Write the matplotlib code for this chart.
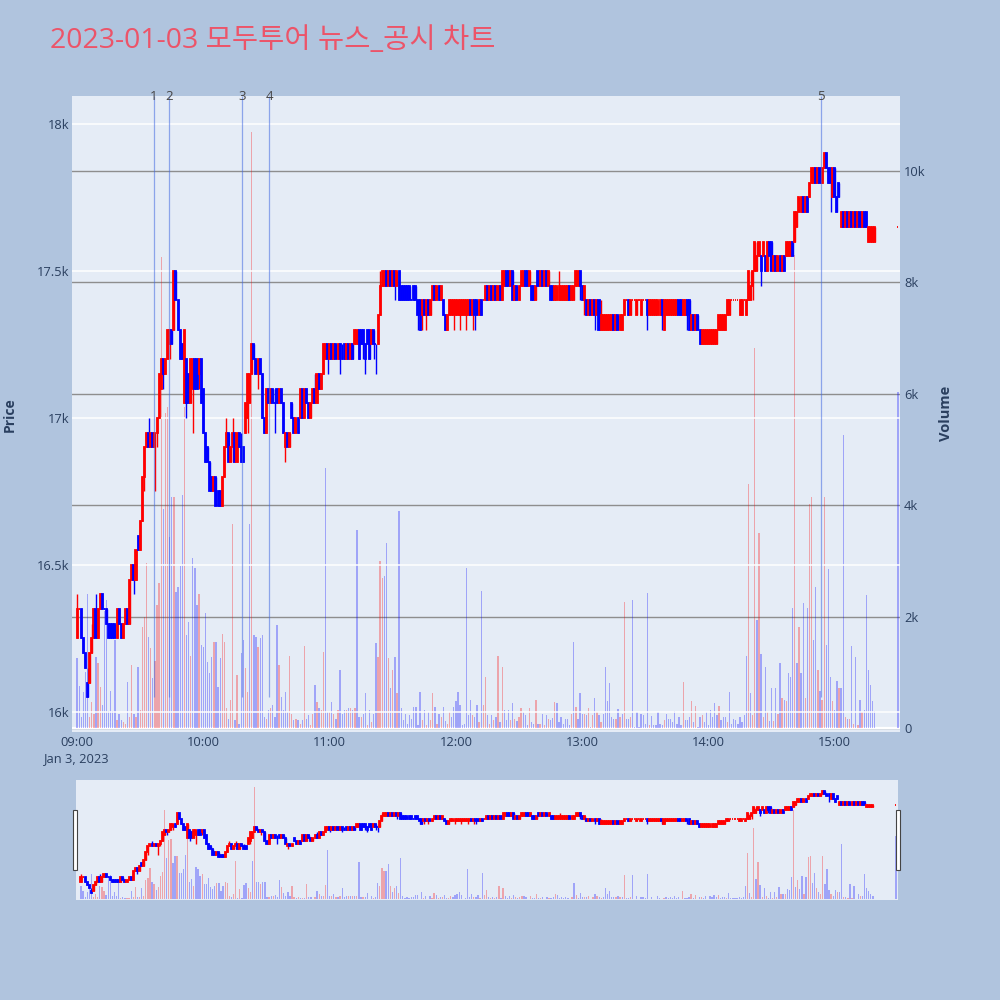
import numpy as np
import pandas as pd
import matplotlib
matplotlib.use("Agg")
import matplotlib.pyplot as plt
import matplotlib.dates as mdates
import matplotlib.transforms as mtransforms
from matplotlib.patches import Rectangle

plt.rcParams["font.family"] = ["Open Sans", "Noto Sans CJK KR", "DejaVu Sans"]

title = "2023-01-03 모두투어 뉴스_공시 차트"
day = "2023-01-03"
first_minute = "09:00"
last_minute = "15:19"
closing_auction = "15:30"

# one row per minute, 09:00 .. 15:19, then the 15:30 closing auction
opens = [
    16250, 16350, 16350, 16250, 16200, 16100, 16100, 16200, 16250, 16350,
    16250, 16350, 16400, 16350, 16350, 16300, 16300, 16300, 16300, 16250,
    16350, 16300, 16250, 16300, 16350, 16300, 16450, 16500, 16450, 16600,
    16550, 16650, 16800, 16900, 16950, 16900, 16950, 16900, 16950, 17000,
    17100, 17200, 17150, 17200, 17250, 17300, 17300, 17500, 17400, 17300,
    17250, 17050, 17200, 17150, 17050, 17100, 17200, 17200, 17150, 17200,
    17100, 16950, 16900, 16850, 16800, 16750, 16800, 16750, 16750, 16700,
    16800, 16900, 16950, 16850, 16900, 16950, 16850, 16950, 16900, 16900,
    16950, 17000, 17050, 17150, 17250, 17200, 17150, 17200, 17150, 17000,
    16950, 17100, 17050, 17100, 17050, 17100, 17050, 17100, 17050, 16900,
    16950, 16900, 17050, 17000, 16950, 17000, 17000, 17100, 17000, 17100,
    17050, 17000, 17050, 17100, 17050, 17150, 17100, 17150, 17200, 17250,
    17200, 17250, 17200, 17250, 17200, 17250, 17200, 17250, 17200, 17250,
    17200, 17250, 17250, 17250, 17300, 17300, 17300, 17250, 17300, 17300,
    17250, 17300, 17250, 17250, 17350, 17450, 17450, 17500, 17450, 17500,
    17450, 17500, 17450, 17500, 17450, 17450, 17450, 17450, 17450, 17400,
    17450, 17450, 17400, 17400, 17350, 17400, 17350, 17400, 17350, 17400,
    17450, 17400, 17450, 17400, 17400, 17350, 17300, 17350, 17350, 17350,
    17350, 17350, 17350, 17350, 17350, 17350, 17350, 17400, 17350, 17400,
    17400, 17350, 17400, 17400, 17400, 17450, 17400, 17450, 17400, 17450,
    17400, 17450, 17400, 17450, 17500, 17500, 17450, 17500, 17400, 17450,
    17400, 17450, 17450, 17500, 17500, 17450, 17450, 17450, 17400, 17500,
    17450, 17500, 17450, 17500, 17450, 17450, 17450, 17400, 17400, 17400,
    17400, 17400, 17400, 17400, 17450, 17400, 17400, 17450, 17450, 17500,
    17450, 17400, 17400, 17350, 17400, 17350, 17400, 17350, 17400, 17300,
    17300, 17300, 17300, 17300, 17300, 17350, 17300, 17350, 17300, 17300,
    17350, 17400, 17400, 17350, 17400, 17400, 17350, 17400, 17350, 17400,
    17400, 17400, 17350, 17350, 17350, 17350, 17350, 17350, 17400, 17300,
    17350, 17350, 17350, 17350, 17350, 17350, 17400, 17400, 17350, 17350,
    17400, 17400, 17300, 17350, 17300, 17350, 17300, 17250, 17250, 17250,
    17250, 17250, 17250, 17250, 17250, 17300, 17300, 17300, 17300, 17350,
    17350, 17400, 17400, 17400, 17400, 17350, 17350, 17400, 17350, 17400,
    17400, 17450, 17500, 17500, 17550, 17550, 17550, 17550, 17500, 17600,
    17600, 17500, 17550, 17500, 17550, 17500, 17550, 17550, 17550, 17550,
    17600, 17600, 17650, 17700, 17700, 17750, 17700, 17750, 17750, 17800,
    17800, 17850, 17800, 17850, 17800, 17850, 17900, 17850, 17850, 17750,
    17850, 17750, 17800, 17650, 17700, 17650, 17700, 17650, 17700, 17650,
    17700, 17650, 17700, 17650, 17700, 17700, 17600, 17600, 17600, 17600,
    17650,
]
highs = [
    16400, 16350, 16350, 16250, 16200, 16150, 16200, 16300, 16350, 16400,
    16350, 16400, 16400, 16350, 16350, 16300, 16300, 16300, 16300, 16350,
    16350, 16300, 16300, 16350, 16350, 16450, 16500, 16500, 16550, 16600,
    16650, 16800, 16900, 16950, 17000, 16950, 16950, 16950, 17000, 17150,
    17200, 17200, 17200, 17300, 17300, 17300, 17500, 17500, 17400, 17300,
    17250, 17300, 17200, 17150, 17200, 17200, 17200, 17200, 17200, 17200,
    17100, 16950, 16900, 16850, 16800, 16800, 16800, 16750, 16750, 16800,
    16900, 17000, 16950, 16900, 17000, 16950, 16950, 16950, 16950, 16900,
    17050, 17150, 17150, 17250, 17250, 17200, 17200, 17200, 17150, 17000,
    17100, 17100, 17100, 17100, 17100, 17100, 17100, 17100, 17050, 16950,
    16950, 16950, 17050, 17000, 17000, 17000, 17100, 17100, 17100, 17100,
    17050, 17050, 17100, 17150, 17150, 17150, 17150, 17250, 17250, 17250,
    17250, 17250, 17250, 17250, 17250, 17250, 17250, 17250, 17250, 17250,
    17250, 17250, 17300, 17300, 17300, 17300, 17300, 17250, 17300, 17300,
    17300, 17300, 17250, 17350, 17500, 17500, 17500, 17500, 17500, 17500,
    17500, 17500, 17500, 17500, 17450, 17450, 17450, 17450, 17450, 17400,
    17450, 17450, 17400, 17400, 17400, 17400, 17400, 17400, 17400, 17450,
    17450, 17450, 17450, 17450, 17400, 17350, 17350, 17400, 17400, 17400,
    17400, 17400, 17400, 17400, 17400, 17400, 17400, 17400, 17400, 17400,
    17400, 17400, 17400, 17400, 17450, 17450, 17450, 17450, 17450, 17450,
    17450, 17450, 17500, 17500, 17500, 17500, 17500, 17500, 17450, 17450,
    17450, 17500, 17500, 17500, 17500, 17500, 17450, 17450, 17450, 17500,
    17500, 17500, 17500, 17500, 17500, 17450, 17450, 17450, 17450, 17500,
    17450, 17450, 17450, 17450, 17450, 17450, 17450, 17500, 17500, 17500,
    17450, 17450, 17400, 17400, 17400, 17400, 17400, 17400, 17400, 17400,
    17350, 17350, 17350, 17350, 17350, 17350, 17350, 17350, 17350, 17350,
    17400, 17400, 17400, 17400, 17400, 17400, 17400, 17400, 17400, 17400,
    17400, 17400, 17400, 17400, 17400, 17400, 17400, 17400, 17400, 17400,
    17400, 17400, 17400, 17400, 17400, 17400, 17400, 17400, 17400, 17400,
    17400, 17400, 17350, 17350, 17350, 17350, 17300, 17300, 17300, 17300,
    17300, 17300, 17300, 17300, 17300, 17350, 17350, 17350, 17350, 17400,
    17400, 17400, 17400, 17400, 17400, 17400, 17400, 17400, 17400, 17500,
    17500, 17500, 17600, 17600, 17600, 17550, 17600, 17550, 17600, 17600,
    17600, 17550, 17550, 17550, 17550, 17550, 17550, 17600, 17600, 17600,
    17600, 17700, 17700, 17750, 17750, 17750, 17750, 17750, 17800, 17850,
    17850, 17850, 17850, 17850, 17850, 17900, 17900, 17850, 17850, 17850,
    17850, 17750, 17800, 17700, 17700, 17700, 17700, 17700, 17700, 17700,
    17700, 17700, 17700, 17700, 17700, 17700, 17650, 17650, 17650, 17650,
    17650,
]
lows = [
    16250, 16350, 16250, 16200, 16150, 16050, 16100, 16200, 16250, 16250,
    16250, 16350, 16350, 16350, 16300, 16250, 16250, 16250, 16250, 16250,
    16300, 16250, 16250, 16300, 16300, 16300, 16450, 16400, 16450, 16550,
    16550, 16650, 16750, 16900, 16900, 16900, 16900, 16750, 16900, 17000,
    17100, 17100, 17150, 17200, 17200, 17250, 17300, 17400, 17300, 17200,
    17200, 17050, 17000, 17050, 17050, 16950, 17100, 17100, 17100, 17050,
    16950, 16850, 16850, 16750, 16750, 16750, 16700, 16700, 16700, 16700,
    16800, 16900, 16850, 16850, 16850, 16850, 16850, 16900, 16850, 16850,
    16950, 16950, 17050, 17150, 17200, 17150, 17100, 17150, 17000, 16950,
    16950, 17050, 17050, 17050, 16950, 17050, 17050, 17050, 16950, 16850,
    16900, 16900, 17000, 16950, 16950, 16950, 17000, 17000, 17000, 17050,
    17000, 17000, 17050, 17050, 17050, 17100, 17100, 17150, 17200, 17150,
    17200, 17200, 17200, 17200, 17200, 17150, 17200, 17200, 17200, 17200,
    17200, 17200, 17250, 17250, 17200, 17250, 17200, 17150, 17250, 17200,
    17250, 17200, 17150, 17250, 17350, 17450, 17450, 17450, 17450, 17450,
    17450, 17400, 17450, 17400, 17400, 17400, 17400, 17400, 17400, 17400,
    17400, 17400, 17300, 17300, 17300, 17350, 17300, 17350, 17350, 17400,
    17400, 17400, 17400, 17400, 17350, 17300, 17300, 17350, 17350, 17300,
    17350, 17350, 17300, 17350, 17350, 17300, 17350, 17350, 17300, 17300,
    17350, 17350, 17350, 17400, 17400, 17400, 17400, 17400, 17400, 17400,
    17400, 17400, 17400, 17450, 17450, 17450, 17450, 17400, 17400, 17400,
    17400, 17450, 17450, 17450, 17450, 17450, 17400, 17400, 17400, 17450,
    17450, 17450, 17450, 17450, 17450, 17400, 17400, 17400, 17400, 17400,
    17400, 17400, 17400, 17400, 17400, 17400, 17400, 17450, 17450, 17400,
    17400, 17350, 17350, 17350, 17350, 17350, 17300, 17350, 17300, 17300,
    17300, 17300, 17300, 17300, 17300, 17300, 17300, 17300, 17300, 17300,
    17350, 17400, 17350, 17350, 17400, 17400, 17350, 17400, 17350, 17400,
    17400, 17300, 17350, 17350, 17350, 17350, 17350, 17350, 17300, 17300,
    17350, 17350, 17350, 17350, 17350, 17350, 17350, 17350, 17350, 17350,
    17300, 17300, 17300, 17300, 17300, 17300, 17250, 17250, 17250, 17250,
    17250, 17250, 17250, 17250, 17250, 17300, 17300, 17300, 17300, 17350,
    17350, 17400, 17400, 17400, 17400, 17350, 17350, 17400, 17350, 17400,
    17400, 17400, 17500, 17500, 17550, 17450, 17550, 17500, 17500, 17500,
    17500, 17500, 17500, 17500, 17500, 17500, 17500, 17550, 17550, 17550,
    17550, 17600, 17650, 17700, 17700, 17700, 17700, 17700, 17750, 17800,
    17800, 17800, 17800, 17800, 17800, 17850, 17850, 17800, 17700, 17750,
    17750, 17700, 17750, 17650, 17650, 17650, 17650, 17650, 17650, 17650,
    17650, 17650, 17650, 17650, 17650, 17650, 17600, 17600, 17600, 17600,
    17650,
]
closes = [
    16350, 16350, 16250, 16200, 16150, 16050, 16200, 16250, 16350, 16250,
    16350, 16400, 16350, 16350, 16300, 16250, 16250, 16250, 16250, 16350,
    16300, 16250, 16300, 16350, 16300, 16450, 16500, 16450, 16550, 16550,
    16650, 16800, 16900, 16950, 16900, 16950, 16900, 16950, 17000, 17150,
    17200, 17150, 17200, 17300, 17300, 17250, 17500, 17400, 17300, 17200,
    17200, 17300, 17050, 17050, 17200, 17200, 17100, 17100, 17200, 17050,
    16950, 16850, 16850, 16750, 16750, 16800, 16700, 16700, 16700, 16800,
    16900, 16950, 16850, 16900, 16950, 16850, 16950, 16900, 16850, 16850,
    17050, 17150, 17150, 17250, 17200, 17150, 17200, 17150, 17000, 16950,
    17100, 17050, 17100, 17050, 17050, 17050, 17100, 17050, 16950, 16950,
    16900, 16950, 17000, 16950, 17000, 16950, 17100, 17000, 17100, 17050,
    17000, 17050, 17100, 17050, 17150, 17100, 17150, 17250, 17250, 17200,
    17250, 17200, 17250, 17200, 17250, 17200, 17200, 17200, 17250, 17200,
    17250, 17200, 17300, 17300, 17200, 17250, 17250, 17200, 17250, 17200,
    17300, 17250, 17250, 17350, 17450, 17500, 17500, 17450, 17500, 17450,
    17500, 17450, 17500, 17400, 17400, 17400, 17400, 17400, 17400, 17400,
    17400, 17400, 17350, 17300, 17400, 17350, 17400, 17350, 17400, 17450,
    17400, 17450, 17400, 17450, 17350, 17300, 17350, 17400, 17400, 17400,
    17400, 17400, 17400, 17400, 17400, 17400, 17400, 17350, 17400, 17350,
    17350, 17400, 17350, 17400, 17450, 17400, 17450, 17400, 17450, 17400,
    17450, 17400, 17500, 17500, 17450, 17450, 17500, 17400, 17450, 17400,
    17450, 17500, 17500, 17450, 17450, 17500, 17400, 17400, 17450, 17450,
    17500, 17450, 17500, 17450, 17500, 17400, 17400, 17450, 17450, 17450,
    17450, 17450, 17450, 17450, 17400, 17450, 17450, 17500, 17500, 17450,
    17400, 17450, 17350, 17400, 17350, 17400, 17350, 17400, 17300, 17350,
    17350, 17350, 17350, 17350, 17350, 17300, 17350, 17300, 17350, 17350,
    17400, 17400, 17350, 17400, 17400, 17400, 17400, 17400, 17400, 17400,
    17400, 17350, 17400, 17400, 17400, 17400, 17400, 17400, 17350, 17400,
    17400, 17400, 17400, 17400, 17400, 17400, 17350, 17350, 17400, 17400,
    17350, 17300, 17350, 17300, 17350, 17300, 17250, 17300, 17300, 17300,
    17300, 17300, 17300, 17300, 17300, 17350, 17350, 17350, 17350, 17400,
    17400, 17400, 17400, 17400, 17400, 17400, 17400, 17400, 17400, 17500,
    17450, 17500, 17600, 17550, 17600, 17500, 17600, 17500, 17600, 17550,
    17500, 17550, 17500, 17550, 17500, 17550, 17500, 17600, 17600, 17600,
    17550, 17700, 17700, 17750, 17750, 17700, 17750, 17700, 17800, 17850,
    17850, 17800, 17850, 17800, 17850, 17900, 17850, 17800, 17800, 17850,
    17750, 17700, 17750, 17700, 17650, 17700, 17650, 17700, 17650, 17700,
    17650, 17700, 17650, 17700, 17650, 17650, 17650, 17650, 17650, 17650,
    17650,
]
volumes = [
    1250, 750, 200, 650, 1000, 2400, 200, 470, 260, 1280,
    1160, 740, 410, 2100, 2300, 300, 670, 300, 1580, 140,
    260, 140, 110, 80, 830, 200, 1130, 260, 200, 1100,
    320, 1820, 2000, 2970, 1630, 1430, 900, 1200, 2200, 2600,
    8450, 3940, 5650, 5770, 3430, 4150, 4150, 2450, 2540, 2900,
    4180, 5770, 1670, 1900, 1300, 3050, 2880, 2200, 2400, 1490,
    1460, 2060, 1190, 980, 1280, 1550, 1550, 740, 1250, 1680,
    1550, 350, 170, 500, 3670, 140, 950, 80, 1340, 1580,
    1070, 650, 3670, 10700, 1670, 1640, 1460, 1610, 1670, 200,
    170, 320, 350, 410, 200, 1850, 1130, 560, 320, 650,
    290, 1290, 260, 140, 170, 140, 80, 140, 1470, 170,
    230, 50, 260, 770, 470, 350, 320, 1370, 4660, 290,
    290, 470, 260, 170, 320, 1040, 260, 320, 320, 350,
    350, 320, 350, 3550, 200, 200, 260, 620, 50, 320,
    110, 260, 1520, 1280, 2990, 2690, 2720, 3320, 1250, 710,
    1040, 1280, 620, 3900, 350, 140, 260, 80, 230, 170,
    380, 380, 50, 650, 140, 320, 50, 290, 140, 620,
    380, 80, 260, 200, 380, 130, 80, 290, 200, 380,
    490, 650, 410, 50, 80, 2880, 230, 500, 230, 200,
    410, 110, 2460, 410, 920, 230, 80, 230, 140, 200,
    1290, 110, 1100, 320, 140, 320, 140, 440, 170, 130,
    200, 350, 290, 230, 50, 350, 110, 80, 510, 80,
    80, 260, 50, 230, 160, 140, 180, 470, 440, 110,
    200, 80, 170, 160, 50, 260, 1550, 380, 160, 620,
    260, 250, 230, 350, 20, 230, 530, 290, 230, 110,
    260, 1100, 490, 800, 200, 170, 170, 340, 200, 260,
    2270, 160, 160, 200, 2300, 20, 290, 20, 260, 230,
    80, 2420, 50, 220, 50, 50, 280, 80, 50, 140,
    260, 160, 170, 110, 300, 80, 190, 50, 830, 140,
    140, 200, 490, 100, 400, 20, 200, 230, 110, 280,
    50, 320, 190, 440, 230, 390, 140, 190, 200, 100,
    640, 80, 160, 140, 80, 190, 110, 230, 1290, 4380,
    620, 230, 6820, 1940, 3500, 1330, 200, 1090, 290, 130,
    710, 120, 710, 260, 1160, 530, 500, 480, 980, 910,
    2150, 8500, 1160, 1810, 990, 2250, 530, 2150, 4020, 4150,
    1580, 2530, 1050, 670, 500, 4150, 1490, 2850, 910, 490,
    320, 840, 720, 710, 5260, 200, 170, 160, 1470, 80,
    1280, 50, 500, 280, 320, 2380, 1040, 770, 490, 300,
    6040,
]

news_times = ["09:36:24", "09:43:42", "10:18:30", "10:31:24", "14:53:24"]
news_labels = ["1", "2", "3", "4", "5"]

price_ticks = [16000, 16500, 17000, 17500, 18000]
price_ticklabels = ["16k", "16.5k", "17k", "17.5k", "18k"]
volume_ticks = [0, 2000, 4000, 6000, 8000, 10000]
volume_ticklabels = ["0", "2k", "4k", "6k", "8k", "10k"]
hour_ticks = ["09:00", "10:00", "11:00", "12:00", "13:00", "14:00", "15:00"]
hour_ticklabels = ["09:00\nJan 3, 2023", "10:00", "11:00", "12:00", "13:00", "14:00", "15:00"]

price_range = (15932, 18095)
volume_range = (-72, 11346)
news_line_bottom = 16050

BG = "#B0C4DE"
PANEL = "#E5ECF6"
FONT_C = "#2a3f5f"
TICK_SIZE = 9.3

# ---- time axis ----
times = pd.date_range(f"{day} {first_minute}", f"{day} {last_minute}", freq="min")
times = times.append(pd.DatetimeIndex([pd.Timestamp(f"{day} {closing_auction}")]))
x = mdates.date2num(times.to_pydatetime())
minute = 1 / 1440
xlim = (x[0] - 2.4 * minute, x[0] + 391 * minute)

o = np.array(opens)
h = np.array(highs)
l = np.array(lows)
c = np.array(closes)
v = np.array(volumes)

# candle direction like plotly: flat candles compare with previous close
up = []
prev_c, prev_up = None, True
for oi, ci in zip(o, c):
    if ci != oi:
        d = ci > oi
    elif prev_c is not None and ci != prev_c:
        d = ci > prev_c
    else:
        d = prev_up
    up.append(d)
    prev_c, prev_up = ci, d
candle_colors = ["red" if u else "blue" for u in up]
vol_colors = ["blue"] + ["red" if c[i] > c[i - 1] else "blue" for i in range(1, len(c))]


def draw_series(axp, axv):
    axv.bar(x, v, width=0.62 * minute, color=vol_colors, alpha=0.3, linewidth=0, zorder=1)
    axp.vlines(x, l, h, colors=candle_colors, linewidth=1.0, zorder=2)
    axp.bar(x, np.abs(c - o), bottom=np.minimum(o, c), width=0.5 * minute,
            color=candle_colors, edgecolor=candle_colors, linewidth=1.3, zorder=3)


def px_rect(left, top, right, bottom):
    return [left / 1000, 1 - bottom / 1000, (right - left) / 1000, (bottom - top) / 1000]


fig = plt.figure(figsize=(10, 10), dpi=100)
fig.patch.set_facecolor(BG)

# ---- main chart ----
ax_vol = fig.add_axes(px_rect(72, 96, 900, 732))
ax = fig.add_axes(px_rect(72, 96, 900, 732), sharex=ax_vol)
ax_vol.set_facecolor(PANEL)
ax.patch.set_visible(False)

draw_series(ax, ax_vol)

ax.set_xlim(*xlim)
ax.set_ylim(*price_range)
ax_vol.set_ylim(*volume_range)

for a in (ax, ax_vol):
    for s in a.spines.values():
        s.set_visible(False)

ax_vol.yaxis.tick_right()
ax_vol.set_yticks(volume_ticks)
ax_vol.set_yticklabels(volume_ticklabels)
ax_vol.grid(axis="y", color="#8e8e8e", linewidth=1.0)
ax_vol.set_axisbelow(True)
ax_vol.axhline(0, color="white", linewidth=1.6, zorder=0.6)
ax_vol.tick_params(axis="y", length=0, labelcolor=FONT_C, labelsize=TICK_SIZE, pad=3)
ax_vol.tick_params(axis="x", length=0, labelbottom=False)

ax.set_yticks(price_ticks)
ax.set_yticklabels(price_ticklabels)
ax.grid(axis="y", color="white", linewidth=1.1)
ax.set_axisbelow(True)
hour_x = mdates.date2num(pd.to_datetime([f"{day} {t}" for t in hour_ticks]).to_pydatetime())
ax.set_xticks(hour_x)
ax.set_xticklabels(hour_ticklabels, linespacing=1.25)
ax.tick_params(axis="both", length=0, labelcolor=FONT_C, labelsize=TICK_SIZE)
ax.tick_params(axis="y", pad=2)
ax.tick_params(axis="x", pad=3)

# news markers
news_x = mdates.date2num(pd.to_datetime([f"{day} {t}" for t in news_times]).to_pydatetime())
ax.vlines(news_x, news_line_bottom, price_range[1], colors="royalblue",
          alpha=0.55, linewidth=0.9, zorder=4)
trans = mtransforms.blended_transform_factory(ax.transData, ax.transAxes)
for nx, lab in zip(news_x, news_labels):
    ax.text(nx, 1.0, lab, transform=trans, ha="center", va="center",
            fontsize=9.5, color="#444444", zorder=5)

# ---- range slider ----
rs_vol = fig.add_axes(px_rect(76, 780, 898, 900))
rs = fig.add_axes(px_rect(76, 780, 898, 900), sharex=rs_vol)
rs_vol.set_facecolor(PANEL)
rs.patch.set_visible(False)
draw_series(rs, rs_vol)
rs.set_xlim(*xlim)
rs.set_ylim(*price_range)
rs_vol.set_ylim(*volume_range)
for a in (rs, rs_vol):
    a.set_xticks([])
    a.set_yticks([])
    for s in a.spines.values():
        s.set_visible(False)

for left in (73, 896):
    fig.patches.append(Rectangle((left / 1000, 1 - 870 / 1000), 4 / 1000, 60 / 1000,
                                 transform=fig.transFigure, facecolor="white",
                                 edgecolor="#444444", linewidth=0.8))

# ---- texts ----
fig.text(50 / 1000, 1 - 41 / 1000, title, color="#EC5469", fontsize=20.5,
         ha="left", va="center")
fig.text(10 / 1000, 1 - 415 / 1000, "Price", rotation=90, fontweight="bold",
         fontsize=10, color=FONT_C, ha="center", va="center")
fig.text(946 / 1000, 1 - 413 / 1000, "Volume", rotation=90, fontweight="bold",
         fontsize=10.5, color=FONT_C, ha="center", va="center")

fig.savefig("out.png", dpi=100, facecolor=BG)
